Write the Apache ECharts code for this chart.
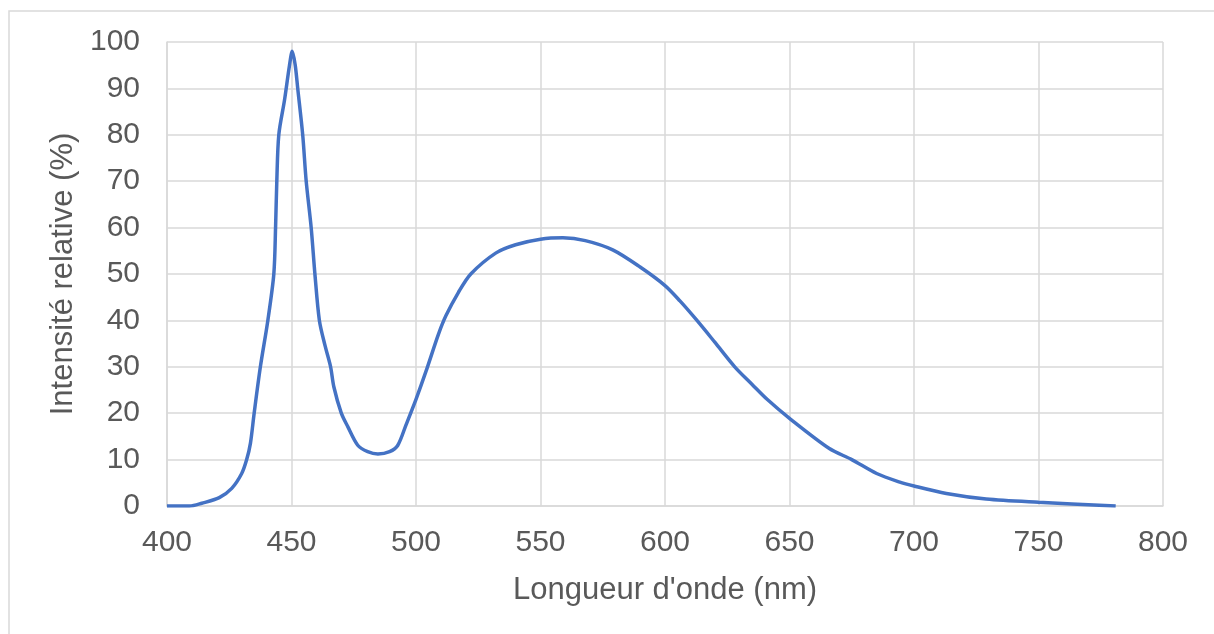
<!DOCTYPE html>
<html>
<head>
<meta charset="utf-8">
<script src="https://cdn.jsdelivr.net/npm/echarts@6/dist/echarts.min.js"></script>
<style>
html,body{margin:0;padding:0;background:#fff;}
#chart{width:1214px;height:634px;}
</style>
</head>
<body>
<div id="chart"></div>
<script>
const wavelengths = [400,409,414,421,426,430,432,433.5,435,437.5,440.5,442.9,443.6,444.1,444.9,447.2,449.2,450.3,451.5,452.5,454.5,455.9,457.9,459.4,461.2,463.5,465.7,467,470,472.6,476.6,480.6,484.7,489.4,492.7,496,500,504,509,512,517,522,532,540,550,559,568,579,590,600,606,612.5,620,628,635,641,650,666,675,685,694,700,713,729,750,781];
const intensity = [0,0,0.6,1.8,3.8,7.0,10,13.5,20,30,40,50,60,70,80,87.5,95,98,95,90,80,70,60,50,40,34.5,30,25.7,20,17.1,13.1,11.7,11.2,11.7,13.1,17.5,23,29,37,41,46,50,54.5,56.3,57.5,57.8,57.2,55.2,51.5,47.5,44.2,40.2,35.3,30,26.2,23,18.9,12.4,10,7,5.2,4.3,2.7,1.5,0.8,0];
const xTicks = [400,450,500,550,600,650,700,750,800];
const yTicks = [0,10,20,30,40,50,60,70,80,90,100];
const xTitle = "Longueur d'onde (nm)";
const yTitle = "Intensité relative (%)";

const seriesData = wavelengths.map((w, i) => [w, intensity[i]]);
const font = "'Liberation Sans', Arial, sans-serif";
const textColor = '#595959';
const gridColor = '#d9d9d9';

const chart = echarts.init(document.getElementById('chart'), null, {renderer: 'canvas'});
chart.setOption({
  animation: false,
  backgroundColor: '#fff',
  graphic: [{
    type: 'rect',
    shape: {x: 9, y: 11, width: 1400, height: 800},
    style: {fill: 'none', stroke: '#d9d9d9', lineWidth: 1.5},
    silent: true
  }],
  grid: {left: 167, right: 51, top: 42, bottom: 128, containLabel: false},
  xAxis: {
    type: 'value',
    min: xTicks[0], max: xTicks[xTicks.length - 1], interval: 50,
    name: xTitle, nameLocation: 'middle', nameGap: 69,
    nameTextStyle: {fontFamily: font, fontSize: 31, color: textColor},
    axisLine: {show: true, lineStyle: {color: gridColor, width: 1.5}},
    axisTick: {show: false},
    axisLabel: {fontFamily: font, fontSize: 30, color: textColor, margin: 22},
    splitLine: {show: true, lineStyle: {color: gridColor, width: 1.5}}
  },
  yAxis: {
    type: 'value',
    min: yTicks[0], max: yTicks[yTicks.length - 1], interval: 10,
    name: yTitle, nameLocation: 'middle', nameGap: 87,
    nameTextStyle: {fontFamily: font, fontSize: 31, color: textColor},
    axisLine: {show: true, lineStyle: {color: gridColor, width: 1.5}},
    axisTick: {show: false},
    axisLabel: {fontFamily: font, fontSize: 30, color: textColor, margin: 27},
    splitLine: {show: true, lineStyle: {color: gridColor, width: 1.5}}
  },
  series: [{
    type: 'line',
    data: seriesData,
    smooth: 0.3,
    showSymbol: false,
    lineStyle: {color: '#4472c4', width: 3.5},
    itemStyle: {color: '#4472c4'}
  }]
});
</script>
</body>
</html>
